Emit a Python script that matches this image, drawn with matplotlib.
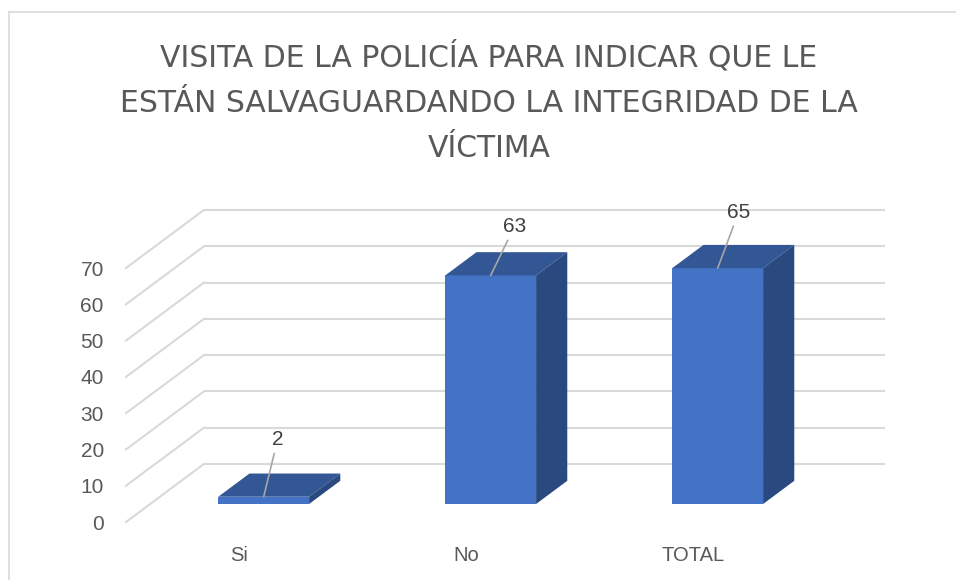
import numpy as np
import matplotlib
matplotlib.use("Agg")
import matplotlib.pyplot as plt
from matplotlib.patches import Polygon
from matplotlib.lines import Line2D

# data
categories = ["Si", "No", "TOTAL"]
values = [2, 63, 65]
yticks = [0, 10, 20, 30, 40, 50, 60, 70]
title = "VISITA DE LA POLICÍA PARA INDICAR QUE LE\nESTÁN SALVAGUARDANDO LA INTEGRIDAD DE LA\nVÍCTIMA"

# colours
front_c = "#4472C4"
top_c = "#335694"
side_c = "#2A4A7F"
grid_c = "#D9D9D9"
text_c = "#595959"

plt.rcParams["font.family"] = ["Liberation Sans", "DejaVu Sans"]

W, H = 956, 580
fig = plt.figure(figsize=(W / 100, H / 100), dpi=100)

# axes = front plane of the 3D box
ax = fig.add_axes([126 / W, (H - 522) / H, (807 - 126) / W, (522 - 268) / H])
ax.set_xlim(-0.5, 2.5)
ax.set_ylim(0, 70)
for s in ax.spines.values():
    s.set_visible(False)
ax.patch.set_alpha(0)

# depth vector (full depth of floor) in data units
DX, DY = 0.3436, 16.0
f0, f1 = 0.31, 0.71  # bar front/back depth
bw = 0.4

# back wall gridlines + left wall diagonals
for v in yticks:
    ax.plot([-0.5 + DX, 2.5 + DX], [v + DY, v + DY], color=grid_c, lw=1.5,
            clip_on=False, zorder=1, solid_capstyle="butt")
    ax.plot([-0.5, -0.5 + DX], [v, v + DY], color=grid_c, lw=1.5,
            clip_on=False, zorder=1)

# bars
x = np.arange(len(categories))
xf = x + f0 * DX
yb = f0 * DY
ax.bar(xf, values, width=bw, bottom=yb, color=front_c, zorder=3, clip_on=False)
ddx, ddy = (f1 - f0) * DX, (f1 - f0) * DY
for xc, v in zip(xf, values):
    xl, xr, yt = xc - bw / 2, xc + bw / 2, yb + v
    top = Polygon([(xl, yt), (xr, yt), (xr + ddx, yt + ddy), (xl + ddx, yt + ddy)],
                  closed=True, facecolor=top_c, edgecolor="none", zorder=3, clip_on=False)
    side = Polygon([(xr, yb), (xr, yt), (xr + ddx, yt + ddy), (xr + ddx, yb + ddy)],
                   closed=True, facecolor=side_c, edgecolor="none", zorder=3, clip_on=False)
    ax.add_patch(top)
    ax.add_patch(side)

# data labels with leader lines
offsets = [(10, 41), (17, 35), (15, 40)]
for xc, v, off in zip(xf, values, offsets):
    ax.annotate(str(v), xy=(xc, yb + v), xytext=off, textcoords="offset points",
                ha="center", va="center", fontsize=15, color="#404040", zorder=5,
                arrowprops=dict(arrowstyle="-", color="#A6A6A6", lw=1.2,
                                shrinkA=1, shrinkB=0), annotation_clip=False)

ax.set_yticks(yticks)
ax.set_yticklabels([str(t) for t in yticks])
ax.set_xticks(x)
ax.set_xticklabels(categories)
ax.tick_params(axis="y", length=0, pad=16, labelsize=15, labelcolor=text_c)
ax.tick_params(axis="x", length=0, pad=17, labelsize=14.5, labelcolor=text_c)

fig.text(489 / W, 1 - 102 / H, title, ha="center", va="center", fontsize=21.5,
         color=text_c, linespacing=1.7, family=["Liberation Sans Narrow", "DejaVu Sans"])

# chart border (left and top visible)
fig.add_artist(Line2D([9 / W, 9 / W], [0, 1 - 12 / H], color=grid_c, lw=1.2))
fig.add_artist(Line2D([9 / W, 1], [1 - 12 / H, 1 - 12 / H], color=grid_c, lw=1.2))

fig.savefig("out.png", dpi=100, facecolor="white")
